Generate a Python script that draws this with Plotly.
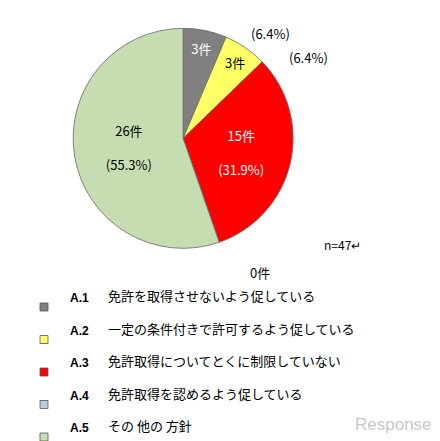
import plotly.graph_objects as go

codes = ["A.1", "A.2", "A.3", "A.4", "A.5"]
labels = ["免許を取得させないよう促している", "一定の条件付きで許可するよう促している",
          "免許取得についてとくに制限していない", "免許取得を認めるよう促している", "その 他の 方針"]
counts = [3, 3, 15, 0, 26]
pcts = ["6.4%", "6.4%", "31.9%", "0%", "55.3%"]
colors = ["#808080", "#ffff66", "#ff0000", "#b9cde5", "#c6ddb2"]
inner = ["3件", "3件", "15件<br><br>(31.9%)", "", "26件<br><br>(55.3%)"]
txtcol = ["white", "black", "white", "black", "black"]

F = "Noto Sans CJK JP"
fig = go.Figure(go.Pie(
    values=counts, labels=codes, sort=False, direction="clockwise", rotation=0,
    marker=dict(colors=colors, line=dict(color="#666", width=0.8)),
    text=inner, textinfo="text", textposition="inside", insidetextorientation="horizontal",
    textfont=dict(family=F, size=13, color=txtcol),
    domain=dict(x=[0.148, 0.648], y=[0.455, 0.954]), showlegend=False, hoverinfo="label+value"))

ann = [
    dict(x=262/440, y=1-14/441, text="(6.4%)"),
    dict(x=322/440, y=1-38/441, text="(6.4%)"),
    dict(x=252/440, y=1-264/441, text="0件"),
    dict(x=355/440, y=1-236/441, text="n=47↵", size=12),
]
annots = [dict(xref="paper", yref="paper", x=a["x"], y=a["y"], text=a["text"], showarrow=False,
               font=dict(family=F, size=a.get("size", 13), color="black")) for a in ann]
shapes = []
for i, (c, l, col) in enumerate(zip(codes, labels, colors)):
    yc = 299 + i * 32.5
    yp = 1 - yc / 441
    shapes.append(dict(type="rect", xref="paper", yref="paper",
                       x0=32/440, x1=40/440, y0=yp-4/441, y1=yp+4/441,
                       fillcolor=col, line=dict(color="#555", width=0.8)))
    annots.append(dict(xref="paper", yref="paper", x=60/440, y=yp, xanchor="left", showarrow=False,
                       text="<b>"+c+"</b>", font=dict(family="Liberation Sans", size=12, color="black")))
    annots.append(dict(xref="paper", yref="paper", x=98/440, y=yp, xanchor="left", showarrow=False,
                       text=l, font=dict(family=F, size=13, color="black")))
annots.append(dict(xref="paper", yref="paper", x=430/440, y=1-428/441, xanchor="right", showarrow=False,
                   text="Response.", font=dict(family="Liberation Sans", size=17, color="#c8c8c8")))

fig.update_layout(width=440, height=441, margin=dict(l=0, r=0, t=0, b=0),
                  paper_bgcolor="white", plot_bgcolor="white", annotations=annots, shapes=shapes)
fig.write_html("out.html")
